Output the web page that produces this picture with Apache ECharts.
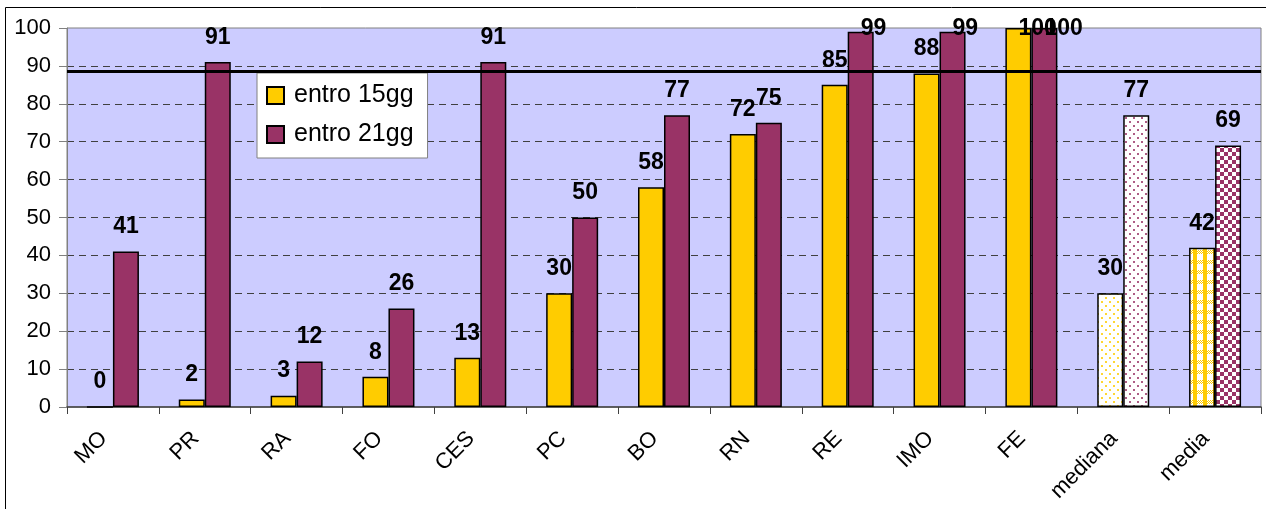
<!DOCTYPE html>
<html>
<head>
<meta charset="utf-8">
<script src="https://cdn.jsdelivr.net/npm/echarts@6/dist/echarts.min.js"></script>
<style>
  html, body { margin: 0; padding: 0; background: #fff; }
  #chart { width: 1266px; height: 509px; }
</style>
</head>
<body>
<div id="chart"></div>
<script>
// Categories and values
const categories = ['MO', 'PR', 'RA', 'FO', 'CES', 'PC', 'BO', 'RN', 'RE', 'IMO', 'FE', 'mediana', 'media'];
const entro15gg = [0, 2, 3, 8, 13, 30, 58, 72, 85, 88, 100, 30, 42];
const entro21gg = [41, 91, 12, 26, 91, 50, 77, 75, 99, 99, 100, 77, 69];
const seriesNames = ['entro 15gg', 'entro 21gg'];
const yTicks = [0, 10, 20, 30, 40, 50, 60, 70, 80, 90, 100];
const targetLine = 88.5;

const YELLOW = '#FFCC00';
const PURPLE = '#993366';
const FONT = 'Arial, "Liberation Sans", sans-serif';

// Fill patterns for the summary columns
function pattern(size, draw) {
  const c = document.createElement('canvas');
  c.width = size; c.height = size;
  const ctx = c.getContext('2d');
  ctx.fillStyle = '#ffffff';
  ctx.fillRect(0, 0, size, size);
  draw(ctx);
  return { image: c, repeat: 'repeat' };
}
function dots(color) {
  return pattern(8, ctx => {
    ctx.fillStyle = color;
    ctx.globalAlpha = 0.8;
    ctx.fillRect(1, 1, 2, 2);
    ctx.fillRect(5, 5, 2, 2);
  });
}
function checker(color) {
  return pattern(8, ctx => {
    ctx.fillStyle = color;
    ctx.fillRect(0, 0, 4, 4);
    ctx.fillRect(4, 4, 4, 4);
  });
}
function plaid(color) {
  return pattern(10, ctx => {
    ctx.fillStyle = color;
    for (let y = 0; y < 4; y++) {
      for (let x = 0; x < 10; x++) {
        if ((x + y) % 2 === 0) ctx.fillRect(x, y, 1, 1);
      }
    }
    ctx.fillRect(3, 0, 4, 10);
  });
}

const specialFill = {
  mediana: [dots(YELLOW), dots(PURPLE)],
  media: [plaid(YELLOW), checker(PURPLE)]
};

function buildData(values, idx) {
  return values.map((v, i) => {
    const fill = specialFill[categories[i]];
    return fill ? { value: v, itemStyle: { color: fill[idx] } } : v;
  });
}

const labelStyle = {
  show: true,
  position: 'top',
  distance: 13,
  color: '#000',
  fontFamily: FONT,
  fontWeight: 'bold',
  fontSize: 23
};

// keep value labels from rising above the plot frame
function clampLabel(p) {
  if (p.labelRect.y < 17) {
    return { y: 17, verticalAlign: 'top' };
  }
  return {};
}

const chart = echarts.init(document.getElementById('chart'), null, { renderer: 'canvas' });

chart.setOption({
  animation: false,
  backgroundColor: '#ffffff',
  graphic: [{
    type: 'rect',
    silent: true,
    z: -10,
    shape: { x: 5.5, y: 7.5, width: 1400, height: 700 },
    style: { fill: 'none', stroke: '#000', lineWidth: 1 }
  }],
  grid: {
    left: 67, right: 5, top: 28, bottom: 102,
    show: true,
    backgroundColor: '#CCCCFF',
    borderColor: '#808080',
    borderWidth: 1
  },
  legend: {
    orient: 'vertical',
    left: 257, top: 73,
    padding: [10, 14, 11, 9],
    itemGap: 14,
    itemWidth: 17,
    itemHeight: 17,
    icon: 'rect',
    backgroundColor: '#ffffff',
    borderColor: '#808080',
    borderWidth: 1,
    borderRadius: 0,
    textStyle: { fontFamily: FONT, fontSize: 25, color: '#000', padding: [0, 0, 0, 5] },
    data: seriesNames
  },
  xAxis: {
    type: 'category',
    data: categories,
    axisLine: { lineStyle: { color: '#404040', width: 1.5 } },
    axisTick: { show: true, length: 7, lineStyle: { color: '#404040' } },
    axisLabel: {
      rotate: 45,
      interval: 0,
      margin: 19,
      padding: [0, 13, 0, 0],
      color: '#000',
      fontFamily: FONT,
      fontSize: 22
    },
    splitLine: { show: false }
  },
  yAxis: {
    type: 'value',
    min: yTicks[0],
    max: yTicks[yTicks.length - 1],
    interval: yTicks[1] - yTicks[0],
    axisLine: { show: true, lineStyle: { color: '#808080' } },
    axisTick: { show: true, length: 8, lineStyle: { color: '#808080' } },
    axisLabel: { margin: 16, color: '#000', fontFamily: FONT, fontSize: 22 },
    splitLine: {
      show: true,
      showMinLine: false,
      showMaxLine: false,
      lineStyle: { color: '#404040', type: [7, 5], width: 1 }
    }
  },
  series: [
    {
      name: seriesNames[0],
      type: 'bar',
      data: buildData(entro15gg, 0),
      barWidth: 26,
      barGap: '0%',
      itemStyle: { color: YELLOW, borderColor: '#000', borderWidth: 1.5 },
      label: labelStyle,
      labelLayout: clampLabel
    },
    {
      name: seriesNames[1],
      type: 'bar',
      data: buildData(entro21gg, 1),
      barWidth: 26,
      barGap: '0%',
      itemStyle: { color: PURPLE, borderColor: '#000', borderWidth: 1.5 },
      label: labelStyle,
      labelLayout: clampLabel,
      markLine: {
        silent: true,
        symbol: 'none',
        label: { show: false },
        lineStyle: { color: '#000', width: 3, type: 'solid' },
        data: [{ yAxis: targetLine }]
      }
    }
  ]
});
</script>
</body>
</html>
